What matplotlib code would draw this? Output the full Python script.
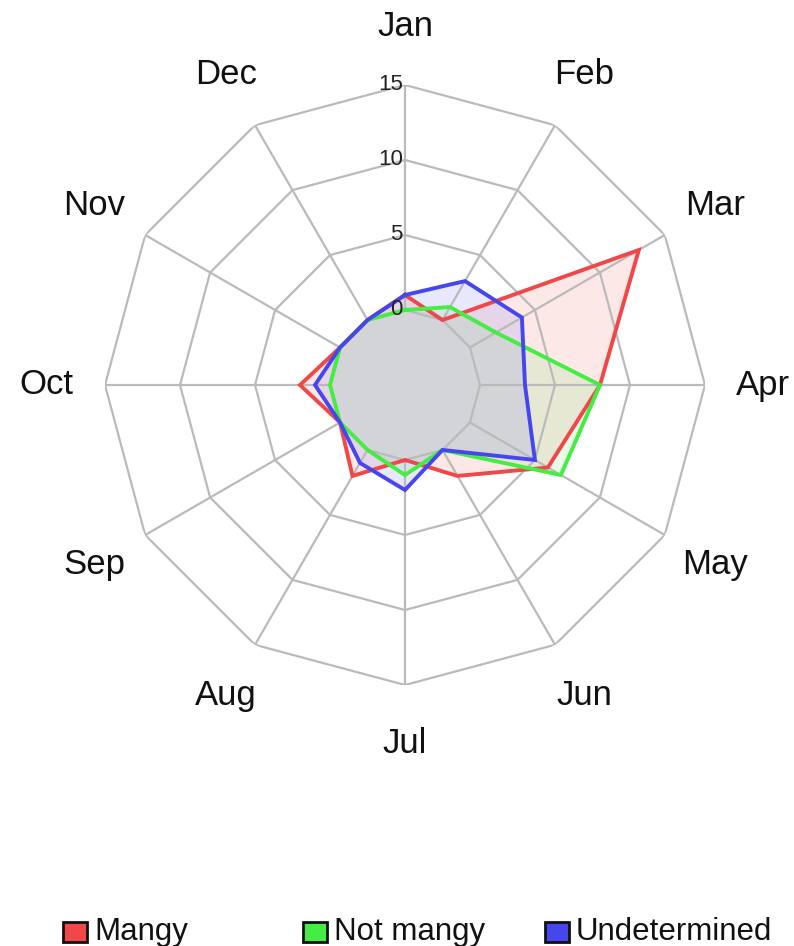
import numpy as np
import matplotlib
matplotlib.use("Agg")
import matplotlib.pyplot as plt
from matplotlib.patches import Rectangle

plt.rcParams['font.family'] = ['Liberation Sans', 'DejaVu Sans']

# data
months = ['Jan', 'Feb', 'Mar', 'Apr', 'May', 'Jun',
          'Jul', 'Aug', 'Sep', 'Oct', 'Nov', 'Dec']
mangy = [1, 0, 13, 8, 6, 2, 0, 2, 0, 2, 0, 0]
not_mangy = [0, 1, 2, 8, 7, 0, 1, 0, 0, 0, 0, 0]
undetermined = [1, 3, 4, 3, 5, 0, 2, 1, 0, 1, 0, 0]
series_names = ['Mangy', 'Not mangy', 'Undetermined']
series_colors = ['#f04848', '#44ec44', '#4646ee']
ring_values = [0, 5, 10, 15]
r_min, r_max = -5, 15

W, H = 794, 946
fig = plt.figure(figsize=(W / 100, H / 100), dpi=100)
# centre at (405, 385) px, radius 300 px
cx, cy, rad = 405, 385, 300
ax = fig.add_axes([(cx - rad) / W, 1 - (cy + rad) / H, 2 * rad / W, 2 * rad / H],
                  projection='polar')
ax.set_theta_zero_location('N')
ax.set_theta_direction(-1)
ax.set_ylim(r_min, r_max)
ax.grid(False)
ax.set_xticks([])
ax.set_yticks([])
ax.spines['polar'].set_visible(False)
ax.patch.set_alpha(0)

theta = np.deg2rad(np.arange(len(months)) * 30)
theta_c = np.append(theta, theta[0])

grid_col = '#bababa'
# polygon rings and spokes
for v in ring_values:
    ax.plot(theta_c, [v] * len(theta_c), color=grid_col, lw=1.6, zorder=2)
for t in theta:
    ax.plot([t, t], [ring_values[0], r_max], color=grid_col, lw=1.6, zorder=2)

# series
for vals, name, col in zip([mangy, not_mangy, undetermined], series_names, series_colors):
    v = np.append(vals, vals[0])
    ax.fill(theta_c, v, color=col, alpha=0.12, lw=0, zorder=1)
    ax.plot(theta_c, v, color=col, lw=2.8, zorder=3, solid_joinstyle='miter')

# ring labels
for v in ring_values:
    ax.annotate(str(v), xy=(0, v), xytext=(-1.5, 0.5), textcoords='offset points',
                ha='right', va='center', fontsize=16, color='#222222', zorder=4)

# month labels
for t, m in zip(theta, months):
    ax.text(t, 18.9, m, ha='center', va='center', fontsize=25, color='#111111',
            clip_on=False)

# legend drawn in figure pixels
legend_x = [63, 303, 545]
for x0, name, col in zip(legend_x, series_names, series_colors):
    fig.add_artist(Rectangle((x0 / W, 1 - 942 / H), 24 / W, 20 / H,
                             transform=fig.transFigure, facecolor=col,
                             edgecolor='#111111', lw=2))
    fig.text((x0 + 31) / W, 1 - 940 / H, name, ha='left', va='baseline',
             fontsize=22.5, color='#111111')

fig.savefig('out.png', dpi=100)
